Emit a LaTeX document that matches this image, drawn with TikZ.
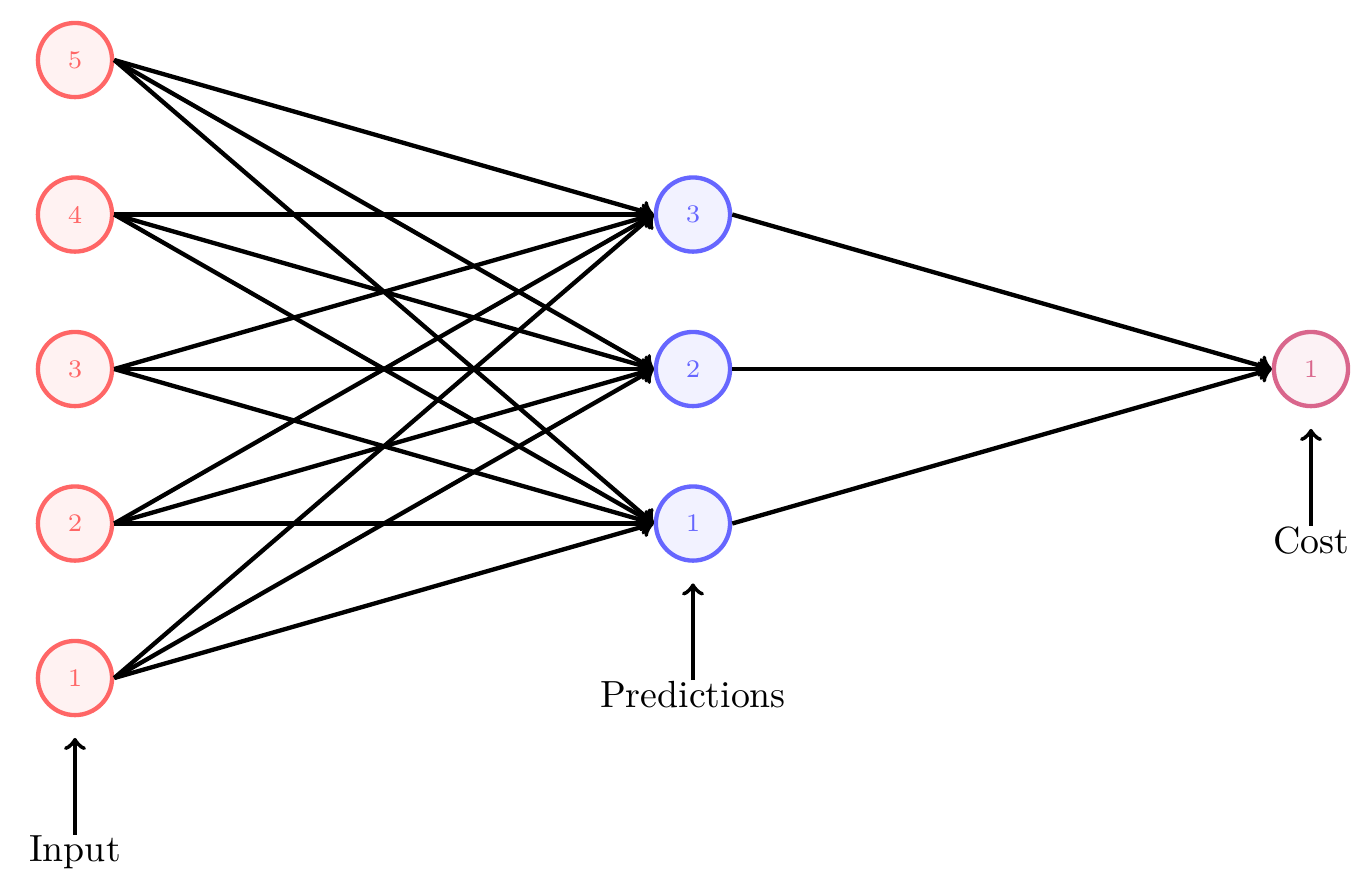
\documentclass[tikz,border=0pt]{standalone}
\usetikzlibrary{positioning}

\begin{document}
\begin{tikzpicture}[
		inp/.style={draw=red!60,fill=red!5,text=red!60,circle,very thick,minimum size=0.72cm,font=\scriptsize},
		hid/.style={draw=blue!60,fill=blue!5,text=blue!60,circle,very thick,minimum size=0.72cm,font=\scriptsize},
		outp/.style={draw=purple!60,fill=purple!5,text=purple!60,circle,very thick,minimum size=0.72cm,font=\scriptsize},
		link/.style={->,very thick},
		lbl/.style={inner sep=0pt,font=\fontsize{10.45}{12}\selectfont}]
		\useasboundingbox (-0.728,-1.99) rectangle (12.573,6.583);
		
		\node[inp] (i1) at (0,0) {1};
		\node[inp] (i2) at (0,1.5) {2};
		\node[inp] (i3) at (0,3) {3};
		\node[inp] (i4) at (0,4.5) {4};
		\node[inp] (i5) at (0,6) {5};
		
		\node[hid] (h1) at (6,1.5) {1};
		\node[hid] (h2) at (6,3) {2};
		\node[hid] (h3) at (6,4.5) {3};
		
		\node[outp] (o1) at (12,3) {1};
		
		\draw[link] (i1.east) -- (h1.west);
		\draw[link] (i1.east) -- (h2.west);
		\draw[link] (i1.east) -- (h3.west);
		\draw[link] (i2.east) -- (h1.west);
		\draw[link] (i2.east) -- (h2.west);
		\draw[link] (i2.east) -- (h3.west);
		\draw[link] (i3.east) -- (h1.west);
		\draw[link] (i3.east) -- (h2.west);
		\draw[link] (i3.east) -- (h3.west);
		\draw[link] (i4.east) -- (h1.west);
		\draw[link] (i4.east) -- (h2.west);
		\draw[link] (i4.east) -- (h3.west);
		\draw[link] (i5.east) -- (h1.west);
		\draw[link] (i5.east) -- (h2.west);
		\draw[link] (i5.east) -- (h3.west);
		
		\draw[link] (h1.east) -- (o1.west);
		\draw[link] (h2.east) -- (o1.west);
		\draw[link] (h3.east) -- (o1.west);
		
		\node[lbl,below=1.14cm of i1] (input) {Input};
		\node[lbl,below=1.14cm of h1] (pred) {Predictions};
		\node[lbl,below=1.14cm of o1] (cost) {Cost};
		
		\draw[link,shorten >=0.2cm] (input) -- (i1);
		\draw[link,shorten >=0.2cm] (pred) -- (h1);
		\draw[link,shorten >=0.2cm] (cost) -- (o1);
		\end{tikzpicture}
\end{document}
